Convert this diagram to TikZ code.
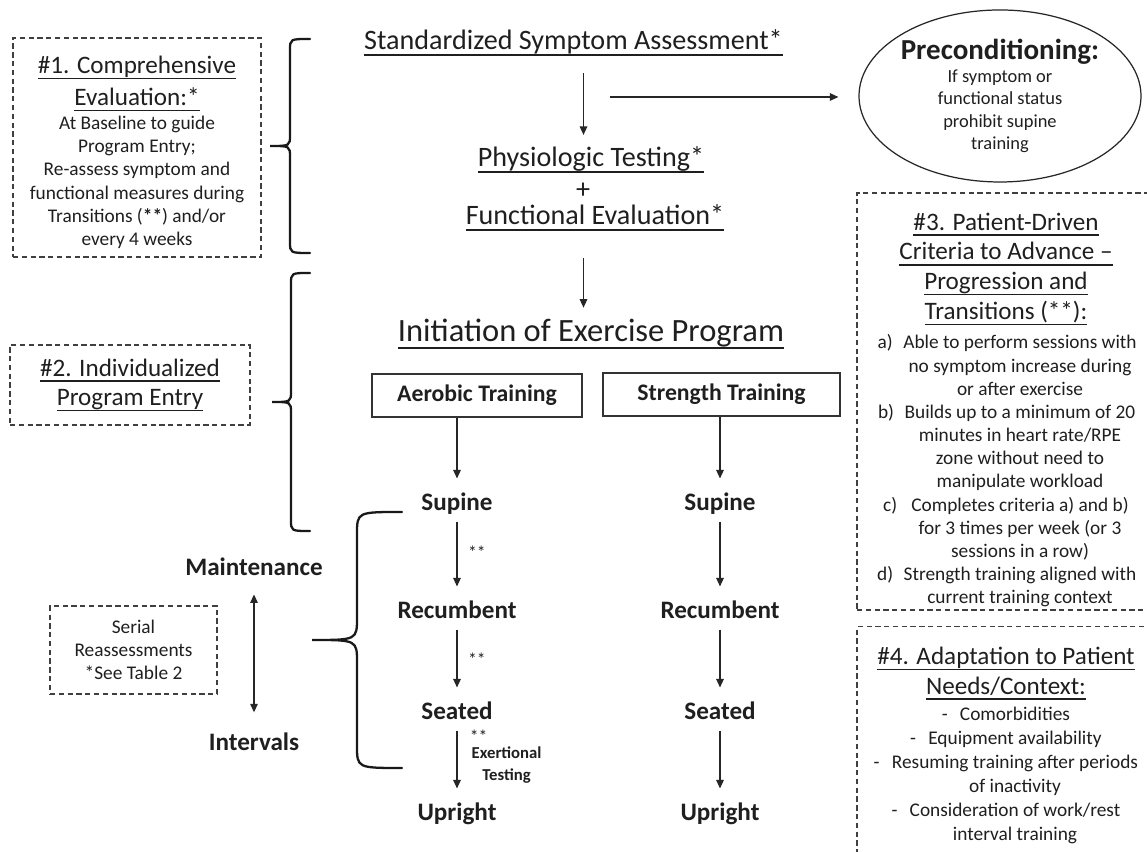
\documentclass[tikz,border=0pt]{standalone}
\usepackage{fontspec}
\setmainfont{Carlito}
\usetikzlibrary{positioning,arrows.meta,shapes.geometric}

% underline that sits just under the descenders
\newsavebox{\ulbox}
\newcommand{\ulined}[1]{\sbox{\ulbox}{#1}\rlap{\rule[-0.22em]{\wd\ulbox}{0.06em}}\usebox{\ulbox}}
% left curly brace: x of ends, x of tip, top y, bottom y, corner size
\newcommand{\drawbrace}[5]{%
  \draw[bracestyle] (#1,#3) .. controls ({(#1+#2)/2},#3) .. ({(#1+#2)/2},{#3-#5})
    -- ({(#1+#2)/2},{(#3+#4)/2+#5}) .. controls ({(#1+#2)/2},{(#3+#4)/2}) .. (#2,{(#3+#4)/2})
    .. controls ({(#1+#2)/2},{(#3+#4)/2}) .. ({(#1+#2)/2},{(#3+#4)/2-#5})
    -- ({(#1+#2)/2},{#4+#5}) .. controls ({(#1+#2)/2},#4) .. (#1,#4);}

\begin{document}
\begin{tikzpicture}[>={Triangle[length=1.7mm,width=1.5mm]},
  every node/.style={text=black!88},
  dashbox/.style={draw=black!75,line width=0.6pt,dash pattern=on 3pt off 2pt},
  boxtitle/.style={align=center,font=\fontsize{14.3}{17}\selectfont},
  boxbody/.style={align=center,font=\fontsize{11}{13.2}\selectfont},
  heading/.style={font=\fontsize{16}{19}\selectfont},
  trainbox/.style={draw=black!80,line width=0.6pt,font=\bfseries\fontsize{13.5}{15}\selectfont,minimum height=0.86cm},
  stage/.style={font=\bfseries\fontsize{14.3}{16}\selectfont,inner sep=0pt,text height=9.5pt,text depth=2pt,outer ysep=4pt,anchor=base},
  flow/.style={->,line width=0.7pt,draw=black!85},
  tostage/.style={flow,shorten >=5pt},
  note/.style={font=\fontsize{10}{11}\selectfont,inner sep=1pt},
  bracestyle/.style={line width=1.3pt,draw=black!90,line cap=round}]
\path[use as bounding box,fill=white] (0,0) rectangle (22.94,17.04);

% left column
\node[dashbox,minimum width=4.96cm,minimum height=4.38cm] (eval) at (2.74,14.09) {};
\node[align=center,font=\fontsize{11}{13.2}\selectfont] (evaltxt) at (2.74,13.99)
  {{\fontsize{14.3}{17}\selectfont\ulined{\#1. Comprehensive}}\\[3.8pt]
   {\fontsize{14.3}{17}\selectfont\ulined{Evaluation:*}}\\[0.5pt]
   At Baseline to guide\\Program Entry;\\Re-assess symptom and\\functional measures during\\Transitions (\textbf{**}) and/or\\every 4 weeks};
\node[dashbox,boxtitle,minimum width=4.8cm,minimum height=1.6cm] (entry) at (2.6,9.34)
  {\ulined{\#2. Individualized}\\\ulined{Program Entry}};
\node[dashbox,boxbody,minimum width=3.34cm,minimum height=1.76cm] (serial) at (2.67,4.04)
  {Serial\\Reassessments\\*See Table 2};
\node[stage] (maint) at (5.08,5.52) {Maintenance};
\node[stage] (interv) at (5.08,2.02) {Intervals};
\draw[<->,line width=0.7pt,draw=black!85,shorten <=4.5pt,shorten >=8.5pt] (maint) -- (interv);

% braces
\drawbrace{6.2}{5.4}{16.26}{11.98}{0.22}
\drawbrace{6.2}{5.44}{11.58}{6.42}{0.22}
\drawbrace{8.04}{6.24}{6.8}{1.68}{0.45}

% assessment flow
\node[heading] (ssa) at (11.47,16.18) {\ulined{Standardized Symptom Assessment*}};
\node[heading] (phys) at (11.82,13.85) {\ulined{Physiologic Testing*}};
\node[heading] (plus) at (11.66,13.22) {+};
\node[heading] (func) at (11.9,12.68) {\ulined{Functional Evaluation*}};
\node[font=\fontsize{18.5}{22}\selectfont] (init) at (11.82,10.36) {\ulined{Initiation of Exercise Program}};
\coordinate (col) at (11.67,0);
\draw[flow,shorten <=6pt,shorten >=3pt] (ssa.south -| col) -- (phys.north -| col);
\draw[flow,shorten <=12pt,shorten >=3pt] (func.south -| col) -- (init.north -| col);

\node[ellipse,draw=black!85,line width=0.7pt,minimum width=5.64cm,minimum height=3.44cm,inner sep=0pt,align=center,
  font=\fontsize{10.5}{12.8}\selectfont] (precond) at (20.0,15.12)
  {{\bfseries\fontsize{16.5}{20}\selectfont Preconditioning:}\\If symptom or\\functional status\\prohibit supine\\training};
\coordinate (pre) at (12.2,15.1);
\draw[flow,shorten >=0.4cm] (pre) -- (pre -| precond.west);

% training columns
\node[trainbox,minimum width=4.2cm] (aer) at (9.54,9.13) {Aerobic Training};
\node[trainbox,minimum width=4.74cm] (str) at (14.43,9.15) {Strength Training};

\node[stage] (asup) at (9.14,6.82) {Supine};
\node[stage] (arec) at (9.14,4.66) {Recumbent};
\node[stage] (asea) at (9.14,2.64) {Seated};
\node[stage] (aupr) at (9.14,0.62) {Upright};
\node[stage] (ssup) at (14.4,6.82) {Supine};
\node[stage] (srec) at (14.4,4.66) {Recumbent};
\node[stage] (ssea) at (14.4,2.64) {Seated};
\node[stage] (supr) at (14.4,0.62) {Upright};

\draw[tostage] (aer.south -| asup.north) -- (asup);
\draw[tostage] (asup) -- node[note,pos=0.42,right=5pt] (tr1) {**} (arec);
\draw[tostage] (arec) -- node[note,pos=0.44,right=5pt] (tr2) {**} (asea);
\draw[tostage] (asea) -- node[note,pos=0.08,right=6pt] (tr3) {**}
  node[pos=0.52,right=7pt,align=center,inner sep=1pt,font=\bfseries\fontsize{9.5}{12.5}\selectfont] (exert) {Exertional\\Testing} (aupr);
\draw[tostage] (str.south -| ssup.north) -- (ssup);
\draw[tostage] (ssup) -- (srec);
\draw[tostage] (srec) -- (ssea);
\draw[tostage] (ssea) -- (supr);

% right column
\node[dashbox,minimum width=5.96cm,minimum height=8.34cm] (crit) at (20.12,9.01) {};
\node[boxtitle] (crithead) at (20.12,11.66)
  {\ulined{\#3. Patient-Driven}\\\ulined{Criteria to Advance --}\\\ulined{Progression and}\\\ulined{Transitions (**):}};
\node[boxbody] (critlist) at (20.4,7.62)
  {\llap{a)\hspace{6pt}}Able to perform sessions with\\no symptom increase during\\or after exercise\\
   \llap{b)\hspace{6pt}}Builds up to a minimum of 20\\minutes in heart rate/RPE\\zone without need to\\manipulate workload\\
   \llap{c)\hspace{8pt}}Completes criteria a) and b)\\for 3 times per week (or 3\\sessions in a row)\\
   \llap{d)\hspace{6pt}}Strength training aligned with\\current training context};

\node[dashbox,minimum width=5.96cm,minimum height=5.07cm] (adapt) at (20.12,1.97) {};
\node[boxtitle] (adapthead) at (20.12,3.57)
  {\ulined{\#4. Adaptation to Patient}\\\ulined{Needs/Context:}};
\node[boxbody,font=\fontsize{11}{13.6}\selectfont] (adaptlist) at (20.3,1.53)
  {\llap{-\hspace{7pt}}Comorbidities\\\llap{-\hspace{7pt}}Equipment availability\\
   \llap{-\hspace{7pt}}Resuming training after periods\\of inactivity\\
   \llap{-\hspace{7pt}}Consideration of work/rest\\interval training};
\end{tikzpicture}
\end{document}
